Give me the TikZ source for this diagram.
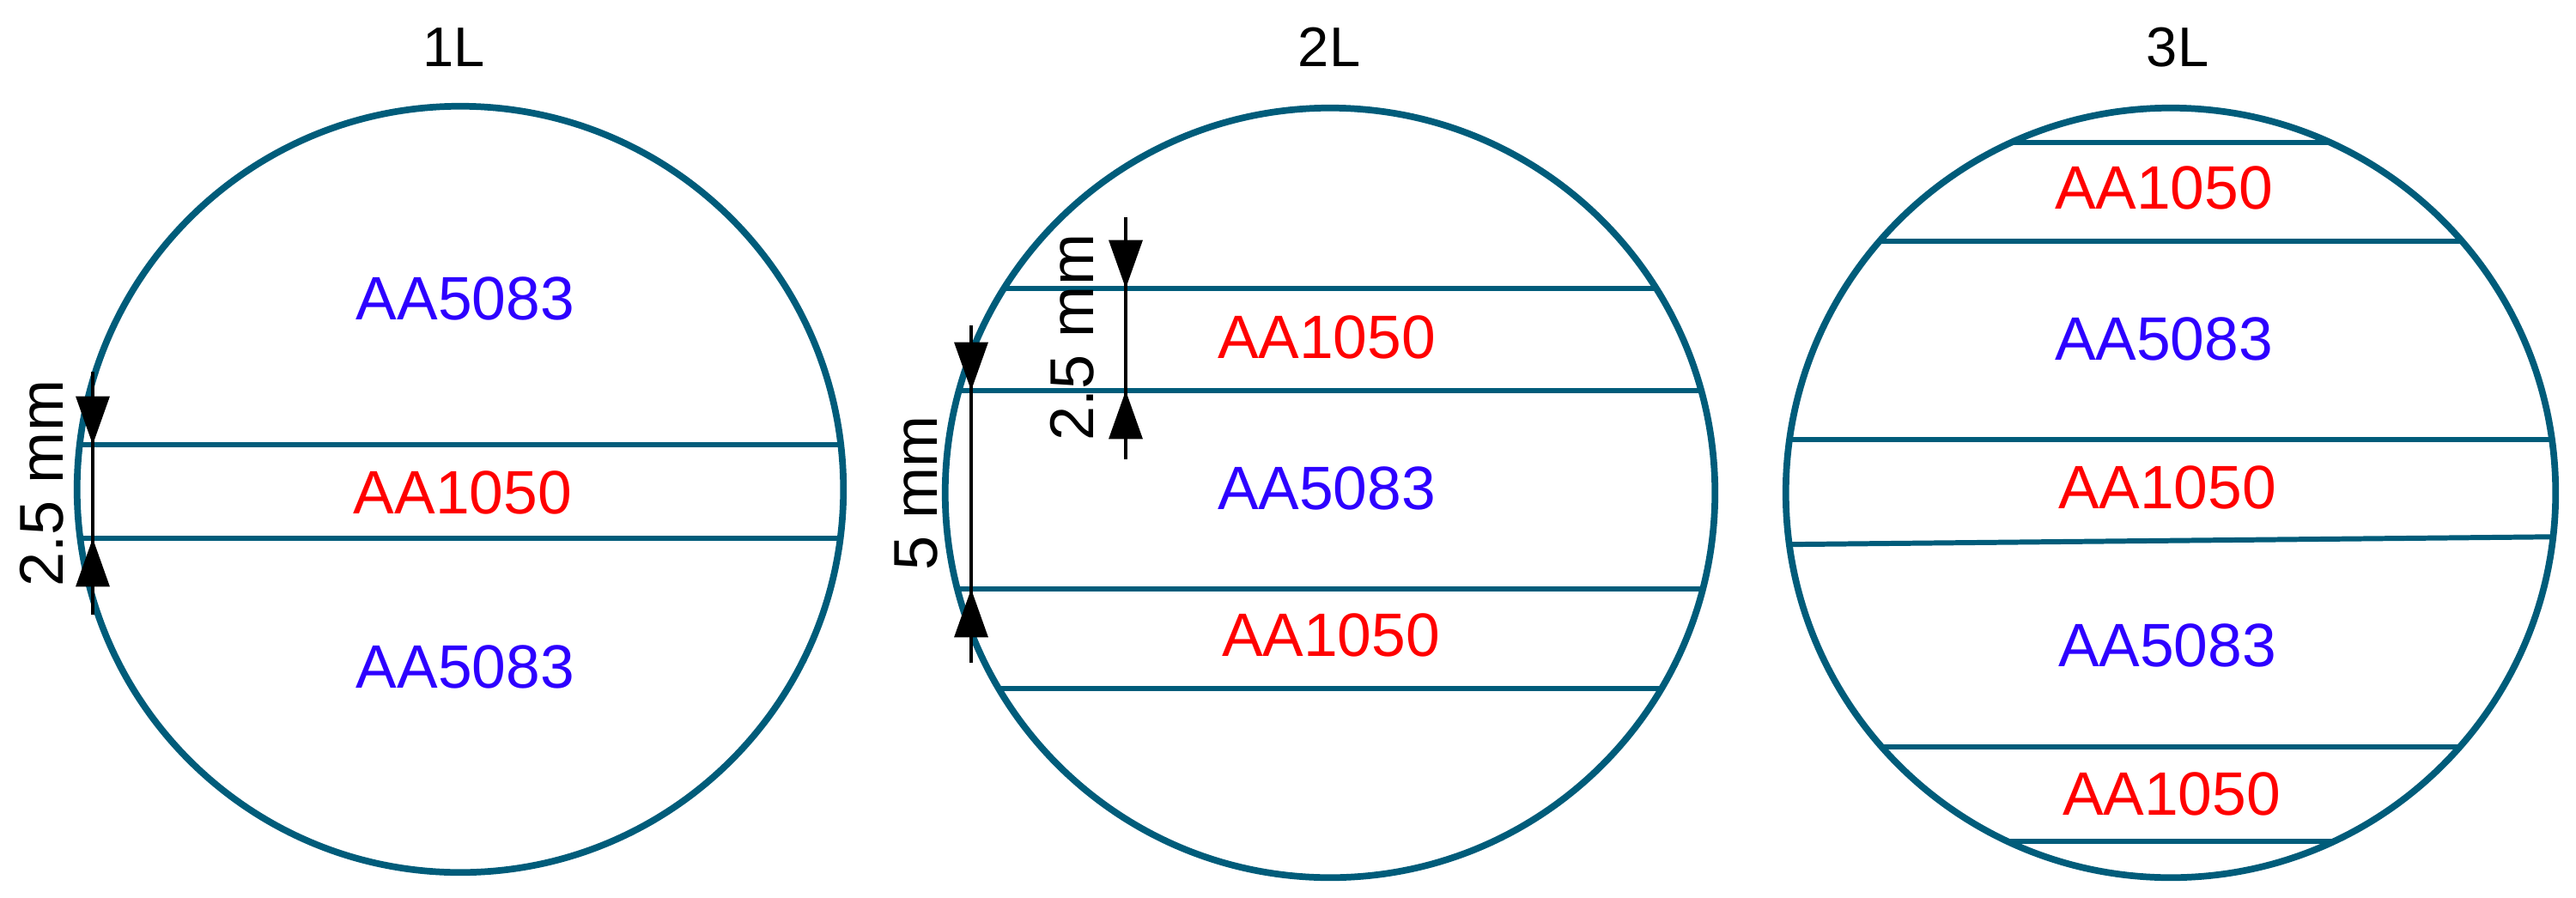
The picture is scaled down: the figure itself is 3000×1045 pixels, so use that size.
\documentclass[tikz,border=0pt]{standalone}
\usepackage{fontspec}
\setmainfont{Liberation Sans}
\usetikzlibrary{arrows.meta}
\definecolor{rim}{RGB}{0,92,122}
\definecolor{hardblue}{RGB}{45,0,255}
\definecolor{softred}{RGB}{255,0,0}
\begin{document}
\begin{tikzpicture}[x=0.01cm,y=-0.01cm,
  rimline/.style={draw=rim, line width=2.2pt},
  layerline/.style={draw=rim, line width=1.7pt},
  mat/.style={font=\fontsize{20.3}{24}\selectfont, inner sep=0pt},
  hard/.style={mat, text=hardblue},
  soft/.style={mat, text=softred},
  title/.style={font=\fontsize{18.5}{22}\selectfont, inner sep=0pt},
  dimline/.style={line width=1.2pt, draw=black},
  dimtip/.style={-{Triangle[length=16pt,width=11pt]}},
  dimtext/.style={font=\fontsize{20.5}{24}\selectfont, rotate=90, inner sep=0pt}]
\useasboundingbox (0,0) rectangle (3000,1045);

% ---------- 1L ----------
\node[title] (t1) at (529,55) {1L};
\begin{scope}
  \clip (536,570) circle [radius=4.46cm];
  \draw[layerline] (0,518) -- (1000,518);
  \draw[layerline] (0,627) -- (1000,627);
\end{scope}
\draw[rimline] (536,570) circle [radius=4.46cm];
\node[hard] (m1a) at (542,348) {AA5083};
\node[soft] (m1b) at (539,574) {AA1050};
\node[hard] (m1c) at (542,777) {AA5083};
\coordinate (d1t) at (108,433);
\coordinate (d1p) at (108,518);
\coordinate (d1q) at (108,627);
\coordinate (d1b) at (108,716);
\draw[dimline] (d1t) -- (d1b);
\draw[dimline,dimtip] (d1t) -- (d1p);
\draw[dimline,dimtip] (d1b) -- (d1q);
\node[dimtext] (l1) at (49,563) {2.5 mm};

% ---------- 2L ----------
\node[title] (t2) at (1548,55) {2L};
\begin{scope}
  \clip (1549,574) circle [radius=4.48cm];
  \draw[layerline] (1000,336) -- (2100,336);
  \draw[layerline] (1000,455) -- (2100,455);
  \draw[layerline] (1000,686) -- (2100,686);
  \draw[layerline] (1000,802) -- (2100,802);
\end{scope}
\draw[rimline] (1549,574) circle [radius=4.48cm];
\node[soft] (m2a) at (1545,393) {AA1050};
\node[hard] (m2b) at (1545,569) {AA5083};
\node[soft] (m2c) at (1550,740) {AA1050};
\coordinate (d2t) at (1311,253);
\coordinate (d2p) at (1311,336);
\coordinate (d2q) at (1311,455);
\coordinate (d2b) at (1311,535);
\draw[dimline] (d2t) -- (d2b);
\draw[dimline,dimtip] (d2t) -- (d2p);
\draw[dimline,dimtip] (d2b) -- (d2q);
\node[dimtext] (l2) at (1249,393) {2.5 mm};
\coordinate (d3t) at (1131,379);
\coordinate (d3p) at (1131,455);
\coordinate (d3q) at (1131,686);
\coordinate (d3b) at (1131,772);
\draw[dimline] (d3t) -- (d3b);
\draw[dimline,dimtip] (d3t) -- (d3p);
\draw[dimline,dimtip] (d3b) -- (d3q);
\node[dimtext] (l3) at (1067,574) {5 mm};

% ---------- 3L ----------
\node[title] (t3) at (2536,55) {3L};
\begin{scope}
  \clip (2528,574) circle [radius=4.48cm];
  \draw[layerline] (2000,166) -- (3000,166);
  \draw[layerline] (2000,281) -- (3000,281);
  \draw[layerline] (2000,512) -- (3000,512);
  \draw[layerline] (2000,635) -- (3000,625);
  \draw[layerline] (2000,870) -- (3000,870);
  \draw[layerline] (2000,980) -- (3000,980);
\end{scope}
\draw[rimline] (2528,574) circle [radius=4.48cm];
\node[soft] (m3a) at (2520,219) {AA1050};
\node[hard] (m3b) at (2520,395) {AA5083};
\node[soft] (m3c) at (2524,568) {AA1050};
\node[hard] (m3d) at (2524,752) {AA5083};
\node[soft] (m3e) at (2529,925) {AA1050};
\end{tikzpicture}
\end{document}
